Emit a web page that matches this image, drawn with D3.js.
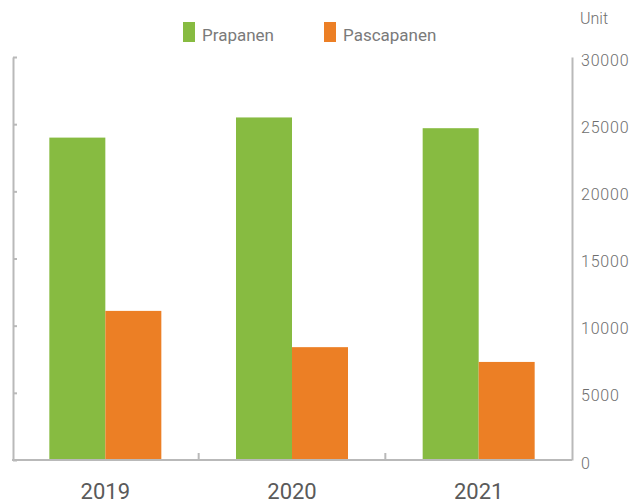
<!DOCTYPE html>
<html>
<head>
<meta charset="utf-8">
<script src="https://cdn.jsdelivr.net/npm/d3@7/dist/d3.min.js"></script>
<style>
  html, body { margin: 0; padding: 0; background: #fff; }
  svg { display: block; }
</style>
</head>
<body>
<svg id="chart" width="635" height="504"></svg>
<script>
const categories = ["2019", "2020", "2021"];
const seriesNames = ["Prapanen", "Pascapanen"];
const prapanen = [24000, 25500, 24700];
const pascapanen = [11100, 8400, 7300];
const tickValues = [0, 5000, 10000, 15000, 20000, 25000, 30000];
const unitLabel = "Unit";
const colors = ["#87bb41", "#ec7f25"];

const svg = d3.select("#chart");
const axisColor = "#b9b9b9";
const textColor = "#6e6e6e";

const x = d3.scaleBand().domain(categories).range([12, 572]).paddingInner(0).paddingOuter(0);
const bw = x.bandwidth();
const xs = d3.scaleBand().domain(seriesNames).range([bw * 0.2, bw * 0.8]).padding(0);
const y = d3.scaleLinear().domain([0, 30000]).range([460, 57]);

const data = categories.map((c, i) => ({ cat: c, values: [
  { key: seriesNames[0], v: prapanen[i] },
  { key: seriesNames[1], v: pascapanen[i] }
]}));
const color = d3.scaleOrdinal().domain(seriesNames).range(colors);

// bars
const g = svg.append("g");
g.selectAll("g.grp").data(data).join("g")
  .attr("class", "grp")
  .attr("transform", d => `translate(${x(d.cat)},0)`)
  .selectAll("rect").data(d => d.values).join("rect")
  .attr("x", d => xs(d.key))
  .attr("width", xs.bandwidth())
  .attr("y", d => y(d.v))
  .attr("height", d => y(0) - y(d.v))
  .attr("fill", d => color(d.key));

// left axis (ticks, no labels)
const leftAxis = svg.append("g")
  .attr("transform", "translate(13,0)")
  .call(d3.axisRight(y).tickValues(tickValues).tickSize(4).tickSizeOuter(0).tickFormat(""));
leftAxis.select(".domain").attr("stroke", axisColor).attr("stroke-width", 2);
leftAxis.selectAll(".tick line").attr("stroke", axisColor).attr("stroke-width", 2);

// right axis with labels
const rightAxis = svg.append("g")
  .attr("transform", "translate(572,0)")
  .call(d3.axisRight(y).tickValues(tickValues).tickSize(0).tickSizeOuter(0).tickPadding(9).tickFormat(d3.format("d")));
rightAxis.select(".domain").attr("stroke", axisColor).attr("stroke-width", 2);
rightAxis.selectAll(".tick text")
  .attr("fill", textColor)
  .attr("font-family", "Roboto, sans-serif")
  .attr("font-weight", 300)
  .attr("font-size", 16)
  .attr("letter-spacing", 0.8)
  .attr("dy", "0.5em");

// bottom axis
svg.append("line")
  .attr("x1", x.range()[0]).attr("x2", x.range()[1])
  .attr("y1", y(0)).attr("y2", y(0))
  .attr("stroke", axisColor).attr("stroke-width", 2);
svg.selectAll("line.xtick").data(categories.slice(1)).join("line")
  .attr("class", "xtick")
  .attr("x1", d => x(d)).attr("x2", d => x(d))
  .attr("y1", y(0)).attr("y2", y(0) - 7)
  .attr("stroke", axisColor).attr("stroke-width", 2);

svg.selectAll("text.xlab").data(categories).join("text")
  .attr("class", "xlab")
  .attr("x", d => x(d) + bw / 2)
  .attr("y", 499)
  .attr("text-anchor", "middle")
  .attr("fill", "#5a5a5a")
  .attr("font-family", "'Liberation Sans Narrow', 'Roboto', sans-serif")
  .attr("font-size", 22)
  .text(d => d);

// unit label
svg.append("text")
  .attr("x", 580).attr("y", 24)
  .attr("fill", textColor)
  .attr("font-family", "Roboto, sans-serif")
  .attr("font-weight", 300)
  .attr("font-size", 16)
  .text(unitLabel);

// legend
const legendX = [183, 324];
const legend = svg.selectAll("g.leg").data(seriesNames).join("g")
  .attr("class", "leg")
  .attr("transform", (d, i) => `translate(${legendX[i]},22)`);
legend.append("rect").attr("width", 12).attr("height", 20).attr("fill", d => color(d));
legend.append("text")
  .attr("x", 19).attr("y", 19)
  .attr("fill", "#7a7a7a")
  .attr("font-family", "Roboto, sans-serif")
  .attr("font-size", 17)
  .text(d => d);
</script>
</body>
</html>
